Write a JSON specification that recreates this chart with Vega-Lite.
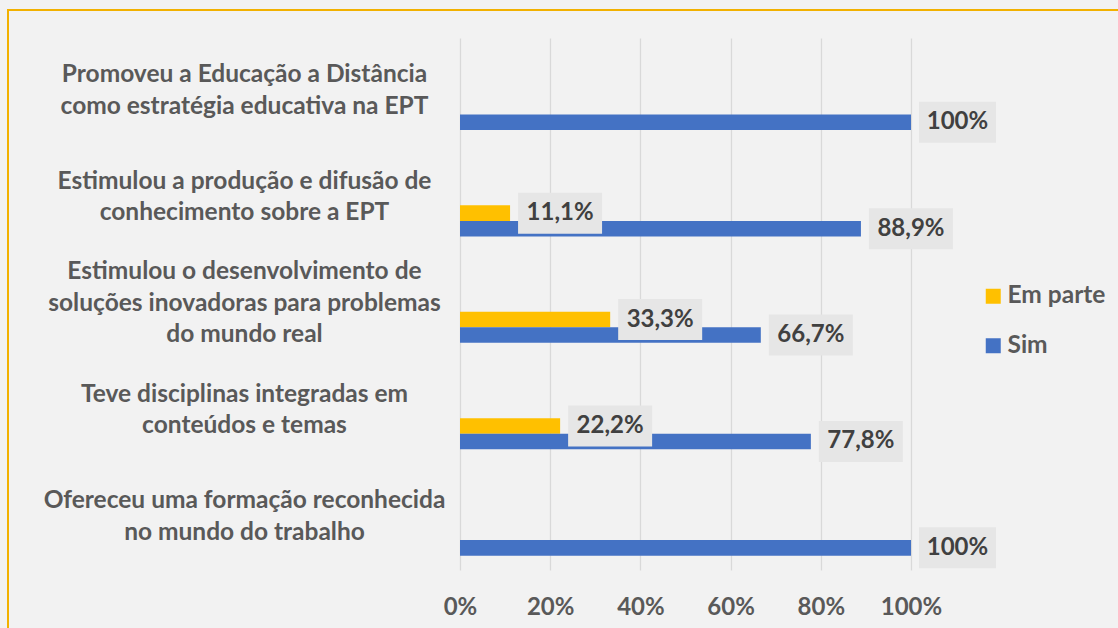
{
  "$schema": "https://vega.github.io/schema/vega-lite/v6.json",
  "width": 1111,
  "height": 619,
  "autosize": {"type": "none"},
  "padding": {"left": 8, "top": 10, "right": 0, "bottom": 0},
  "background": "#f2f2f2",
  "config": {
    "view": {"stroke": "#f2b100", "strokeWidth": 2, "fill": "#f2f2f2"},
    "font": "Lato"
  },
  "data": {
    "values": [
      {"cat": "Promoveu a Educação a Distância|como estratégia educativa na EPT", "series": "Sim", "pct": 100, "label": "100%"},
      {"cat": "Estimulou a produção e difusão de|conhecimento sobre a EPT", "series": "Em parte", "pct": 11.1, "label": "11,1%"},
      {"cat": "Estimulou a produção e difusão de|conhecimento sobre a EPT", "series": "Sim", "pct": 88.9, "label": "88,9%"},
      {"cat": "Estimulou o desenvolvimento de|soluções inovadoras para problemas|do mundo real", "series": "Em parte", "pct": 33.3, "label": "33,3%"},
      {"cat": "Estimulou o desenvolvimento de|soluções inovadoras para problemas|do mundo real", "series": "Sim", "pct": 66.7, "label": "66,7%"},
      {"cat": "Teve disciplinas integradas em|conteúdos e temas", "series": "Em parte", "pct": 22.2, "label": "22,2%"},
      {"cat": "Teve disciplinas integradas em|conteúdos e temas", "series": "Sim", "pct": 77.8, "label": "77,8%"},
      {"cat": "Ofereceu uma formação reconhecida|no mundo do trabalho", "series": "Sim", "pct": 100, "label": "100%"}
    ]
  },
  "encoding": {
    "y": {
      "field": "cat",
      "type": "nominal",
      "sort": null,
      "scale": {"range": [28, 560], "paddingInner": 0.27, "paddingOuter": 0.135},
      "axis": {
        "title": null,
        "domain": false,
        "ticks": false,
        "tickSize": 0,
        "grid": false,
        "labelExpr": "split(datum.label, '|')",
        "labelAlign": "center",
        "labelBaseline": {"condition": {"test": "length(split(datum.label, '|')) == 3", "value": "line-bottom"}, "value": "middle"},
        "labelOffset": -15.75,
        "labelFont": "Lato",
        "labelFontSize": 24.5,
        "labelLineHeight": 31.5,
        "labelFontWeight": "bold",
        "labelColor": "#595959",
        "labelLimit": 0,
        "labelOverlap": false,
        "offset": -236,
        "labelPadding": 0
      }
    },
    "yOffset": {
      "field": "series",
      "type": "nominal",
      "scale": {"domain": ["h1", "h2", "h3", "Em parte", "Sim"]}
    }
  },
  "layer": [
    {
      "mark": {"type": "bar"},
      "encoding": {
        "x": {
          "field": "pct",
          "type": "quantitative",
          "scale": {"domain": [0, 100], "range": [452, 903]},
          "axis": {
            "orient": "top",
            "title": null,
            "values": [0, 20, 40, 60, 80, 100],
            "labelExpr": "datum.value + '%'",
            "domain": false,
            "ticks": false,
            "tickSize": 0,
            "grid": true,
            "gridColor": "#d9d9d9",
            "gridWidth": 1.3,
            "labelFlush": false,
            "labelFont": "Lato",
            "labelFontSize": 24,
            "labelFontWeight": "bold",
            "labelColor": "#595959",
            "labelBaseline": "top",
            "offset": -560,
            "labelPadding": -25
          }
        },
        "color": {
          "field": "series",
          "type": "nominal",
          "scale": {"domain": ["Em parte", "Sim"], "range": ["#FFC000", "#4472C4"]},
          "legend": {
            "title": null,
            "orient": "none",
            "legendX": 973,
            "legendY": 274,
            "symbolType": "square",
            "symbolSize": 225,
            "symbolStrokeWidth": 0,
            "labelFont": "Lato",
            "labelFontSize": 24.5,
            "labelFontWeight": "bold",
            "labelColor": "#595959",
            "labelOffset": 2,
            "rowPadding": 24.5,
            "padding": 0
          }
        }
      }
    },
    {
      "mark": {
        "type": "bar",
        "height": 41,
        "color": "#e6e6e6",
        "xOffset": 8,
        "x2Offset": {"expr": "datum.pct == 100 ? 85 : 92"}
      },
      "encoding": {
        "x": {"field": "pct", "type": "quantitative"},
        "x2": {"field": "pct"}
      }
    },
    {
      "mark": {
        "type": "text",
        "align": "center",
        "baseline": "middle",
        "dx": {"expr": "datum.pct == 100 ? 46.5 : 50"},
        "font": "Lato",
        "fontSize": 24,
        "fontWeight": "bold",
        "color": "#404040"
      },
      "encoding": {
        "x": {"field": "pct", "type": "quantitative"},
        "text": {"field": "label"}
      }
    }
  ]
}
